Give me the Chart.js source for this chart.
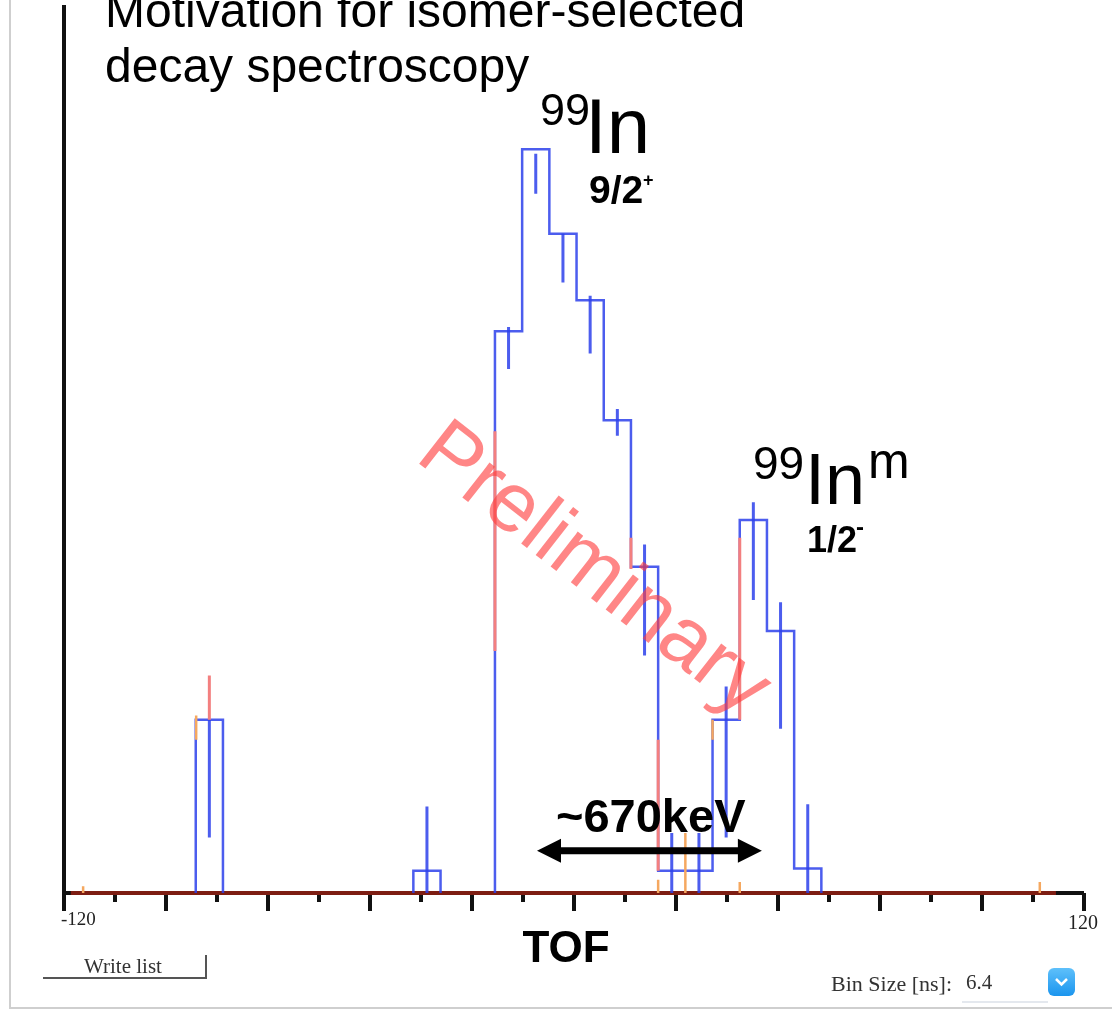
<!DOCTYPE html>
<html>
<head>
<meta charset="utf-8">
<script src="https://cdn.jsdelivr.net/npm/chart.js@4.4.1/dist/chart.umd.min.js"></script>
<style>
  html, body { margin: 0; padding: 0; background: #fff; }
  canvas { display: block; }
</style>
</head>
<body>
<canvas id="tofChart" width="1112" height="1010"></canvas>
<script>
// TOF spectrum, bin size 6.4 ns
const binWidth = 6.4;
const binLeft = [-89.0, -37.8, -18.6, -12.2, -5.8, 0.6, 7.0, 13.4, 19.8, 26.2, 32.6, 39.0, 45.4, 51.8];
const counts  = [7.8, 1.0, 25.3, 33.5, 29.7, 26.7, 21.3, 14.7, 1.0, 1.0, 7.8, 16.8, 11.8, 1.1];
const errLow  = [2.5, 0.0, 23.6, 31.5, 27.5, 24.3, 20.6, 10.7, 0.0, 0.0, 2.5, 13.2, 7.4, 0.0];
const errHigh = [7.8, 3.9, 25.5, 33.3, 29.7, 26.9, 21.8, 15.7, 2.7, 2.7, 9.3, 17.6, 13.1, 4.0];

// second (red) histogram, only visible where it sticks out of the blue one
const redX    = [-85.8, -18.6, 13.4, 19.8, 39.0];
const redLow  = [7.8, 10.9, 14.6, 1.0, 7.8];
const redHigh = [9.8, 20.8, 16.0, 6.9, 16.0];
const orangeX    = [-115.5, -88.9, 19.8, 26.2, 32.6, 39.0, 109.6];
const orangeLow  = [0.0, 6.9, 0.0, 0.0, 6.9, 0.0, 0.0];
const orangeHigh = [0.3, 8.0, 0.6, 2.7, 7.8, 0.5, 0.5];

const baseFrom = -118.4, baseTo = 113.4;
const xTicks = [-120, -108, -96, -84, -72, -60, -48, -36, -24, -12, 0, 12, 24, 36, 48, 60, 72, 84, 96, 108, 120];
const xMajor = [-120, -96, -72, -48, -24, 0, 24, 48, 72, 96, 120];
const xEndLabels = ['-120', '120'];
const arrowFrom = -8.7, arrowTo = 44.2, arrowY = 1.9;

const BLUE = 'rgba(45, 65, 235, 0.85)';
const RED = '#f37f7f';
const ORANGE = '#f5a860';

function outline () {
    let pts = [];
    for (let i = 0; i < binLeft.length; i++) {
        let l = binLeft[i], r = l + binWidth;
        let newGroup = i == 0 || Math.abs(binLeft[i - 1] + binWidth - l) > 0.01;
        if (newGroup) {
            if (i > 0) {
                pts.push({x: binLeft[i - 1] + binWidth, y: 0});
                pts.push({x: l, y: null});
            }
            pts.push({x: l, y: 0});
        }
        pts.push({x: l, y: counts[i]});
        pts.push({x: r, y: counts[i]});
    }
    pts.push({x: binLeft[binLeft.length - 1] + binWidth, y: 0});
    return pts;
}

function segments (xs, lo, hi) {
    let pts = [];
    for (let i = 0; i < xs.length; i++) {
        pts.push({x: xs[i], y: lo[i]}, {x: xs[i], y: hi[i]}, {x: xs[i], y: null});
    }
    return pts;
}

function errorBars () {
    let centers = binLeft.map(l => l + binWidth / 2);
    return segments(centers, errLow, errHigh);
}

const axesPlugin = {
    id: 'axes',
    beforeDraw (chart) {
        const c = chart.ctx;
        c.save();
        c.fillStyle = '#fff';
        c.fillRect(0, 0, chart.width, chart.height);
        // frame of the screenshot
        c.strokeStyle = '#cfcfcf';
        c.lineWidth = 2;
        c.beginPath();
        c.moveTo(10, 0); c.lineTo(10, 1008); c.lineTo(1112, 1008);
        c.stroke();
        c.restore();
    },
    beforeDatasetsDraw (chart) {
        const c = chart.ctx, a = chart.chartArea;
        const xs = chart.scales.x;
        c.save();
        c.strokeStyle = '#111';
        c.lineWidth = 4;
        c.beginPath();
        c.moveTo(a.left, a.top); c.lineTo(a.left, a.bottom); c.lineTo(a.right, a.bottom);
        c.stroke();
        xTicks.forEach(v => {
            let px = xs.getPixelForValue(v);
            let len = xMajor.includes(v) ? 18 : 9;
            c.beginPath();
            c.moveTo(px, a.bottom); c.lineTo(px, a.bottom + len);
            c.stroke();
        });
        // dark red zero line of the spectrum
        c.strokeStyle = '#7d1d12';
        c.beginPath();
        c.moveTo(xs.getPixelForValue(baseFrom), a.bottom);
        c.lineTo(xs.getPixelForValue(baseTo), a.bottom);
        c.stroke();
        c.restore();
    }
};

function txt (c, s, x, y, font, color, align) {
    c.font = font;
    c.fillStyle = color || '#000';
    c.textAlign = align || 'left';
    c.fillText(s, x, y);
}

const textPlugin = {
    id: 'texts',
    afterDraw (chart) {
        const c = chart.ctx, xs = chart.scales.x, ys = chart.scales.y;
        const sans = '"Liberation Sans", Arial, sans-serif';
        const serif = '"Liberation Serif", "Times New Roman", serif';
        c.save();
        c.textBaseline = 'alphabetic';
        txt(c, 'Motivation for isomer-selected', 105, 27, '48px ' + sans);
        txt(c, 'decay spectroscopy', 105, 82, '48px ' + sans);

        // 99In 9/2+
        txt(c, '99', 540, 125, '45px ' + sans);
        txt(c, 'In', 585, 153, '78px ' + sans);
        txt(c, '9/2', 589, 203, 'bold 39px ' + sans);
        txt(c, '+', 643, 186, 'bold 18px ' + sans);

        // 99In^m 1/2-
        txt(c, '99', 753, 479, '46px ' + sans);
        txt(c, 'In', 805, 504, '72px ' + sans);
        txt(c, 'm', 868, 478, '50px ' + sans);
        txt(c, '1/2', 807, 552, 'bold 36px ' + sans);
        txt(c, '-', 856, 535, 'bold 24px ' + sans);

        // energy difference arrow
        let x1 = xs.getPixelForValue(arrowFrom), x2 = xs.getPixelForValue(arrowTo);
        let ya = ys.getPixelForValue(arrowY);
        c.strokeStyle = '#000';
        c.fillStyle = '#000';
        c.lineWidth = 7;
        c.beginPath();
        c.moveTo(x1 + 15, ya); c.lineTo(x2 - 15, ya);
        c.stroke();
        c.beginPath();
        c.moveTo(x1, ya); c.lineTo(x1 + 24, ya - 12); c.lineTo(x1 + 24, ya + 12); c.closePath();
        c.fill();
        c.beginPath();
        c.moveTo(x2, ya); c.lineTo(x2 - 24, ya - 12); c.lineTo(x2 - 24, ya + 12); c.closePath();
        c.fill();
        txt(c, '~670keV', 556, 832, 'bold 47px ' + sans);

        txt(c, 'TOF', 566, 962, 'bold 44px ' + sans, '#000', 'center');
        txt(c, xEndLabels[0], 61, 925, '19px ' + serif, '#222');
        txt(c, xEndLabels[1], 1068, 929, '20px ' + serif, '#222');

        // "Write list" button
        txt(c, 'Write list', 84, 973, '21px ' + serif, '#333');
        c.strokeStyle = '#555';
        c.lineWidth = 2;
        c.beginPath();
        c.moveTo(43, 978); c.lineTo(206, 978); c.lineTo(206, 955);
        c.stroke();

        // bin size selector
        txt(c, 'Bin Size [ns]:', 831, 991, '22px ' + serif, '#333');
        txt(c, '6.4', 966, 989, '21px ' + serif, '#333');
        c.strokeStyle = '#e4e8ee';
        c.lineWidth = 2;
        c.beginPath();
        c.moveTo(962, 1002); c.lineTo(1048, 1002);
        c.stroke();
        let g = c.createLinearGradient(0, 968, 0, 996);
        g.addColorStop(0, '#5ec0fb');
        g.addColorStop(1, '#1b95ee');
        c.fillStyle = g;
        c.beginPath();
        c.roundRect(1048, 968, 27, 28, 6);
        c.fill();
        c.strokeStyle = '#fff';
        c.lineWidth = 2.5;
        c.beginPath();
        c.moveTo(1056, 979); c.lineTo(1061.5, 984.5); c.lineTo(1067, 979);
        c.stroke();

        // watermark
        c.translate(597, 566);
        c.rotate(38 * Math.PI / 180);
        txt(c, 'Preliminary', 0, 29, '84px ' + sans, 'rgba(255, 60, 60, 0.62)', 'center');
        c.restore();
    }
};

new Chart(document.getElementById('tofChart'), {
    type: 'line',
    data: {
        datasets: [
            { data: segments(orangeX, orangeLow, orangeHigh), borderColor: ORANGE, borderWidth: 2.5 },
            { data: segments(redX, redLow, redHigh), borderColor: RED, borderWidth: 3 },
            { data: errorBars(), borderColor: BLUE, borderWidth: 3 },
            { data: outline(), borderColor: BLUE, borderWidth: 2.5 }
        ]
    },
    options: {
        responsive: false,
        animation: false,
        devicePixelRatio: 1,
        layout: { padding: { left: 64, right: 28, top: 5, bottom: 117 } },
        scales: {
            x: { type: 'linear', min: -120, max: 120, display: false },
            y: { type: 'linear', min: 0, max: 40, display: false }
        },
        elements: {
            point: { radius: 0, hoverRadius: 0 },
            line: { tension: 0, fill: false, borderCapStyle: 'butt' }
        },
        datasets: { line: { clip: false, spanGaps: false } },
        plugins: {
            legend: { display: false },
            tooltip: { enabled: false }
        }
    },
    plugins: [axesPlugin, textPlugin]
});
</script>
</body>
</html>
